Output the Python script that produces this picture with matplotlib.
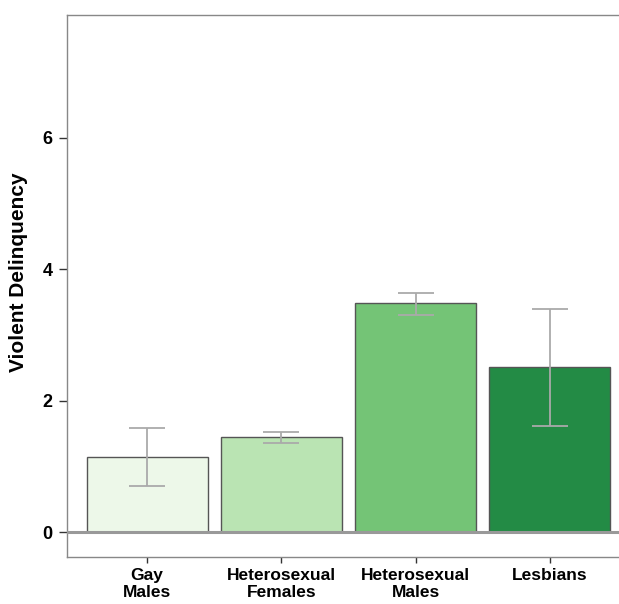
import matplotlib
matplotlib.use("Agg")
import matplotlib.pyplot as plt

# data
groups = ["Gay\nMales", "Heterosexual\nFemales", "Heterosexual\nMales", "Lesbians"]
means = [1.15, 1.45, 3.48, 2.51]
err_low = [0.70, 1.36, 3.31, 1.61]
err_high = [1.59, 1.53, 3.64, 3.40]
colors = ["#edf8e9", "#bae4b3", "#74c476", "#238b45"]

plt.rcParams["font.family"] = ["Liberation Sans", "DejaVu Sans"]
plt.rcParams["font.weight"] = "bold"

fig = plt.figure(figsize=(6.19, 6.04), dpi=100)
ax = fig.add_axes([0.1075, 0.0778, 0.8925, 0.8972])

x = list(range(len(groups)))
ax.bar(x, means, width=0.9, color=colors, edgecolor="#555555", linewidth=1.0, zorder=2)
yerr = [[m - lo for m, lo in zip(means, err_low)], [hi - m for m, hi in zip(means, err_high)]]
ax.errorbar(x, means, yerr=yerr, fmt="none", ecolor="#aaaaaa", elinewidth=1.3,
            capsize=13, capthick=1.3, zorder=3)
ax.axhline(0, color="#999999", linewidth=2.2, zorder=4)

ax.set_xlim(-0.6, 3.515)
ax.set_ylim(-0.38, 7.87)
ax.set_yticks([0, 2, 4, 6])
ax.set_xticks(x)
ax.set_xticklabels(groups, fontsize=12.5, fontweight="bold", linespacing=1.15)
ax.tick_params(axis="y", labelsize=13, length=6, color="#333333", width=1, pad=4)
ax.tick_params(axis="x", length=4, color="#333333", width=1, pad=4)
for lab in ax.get_yticklabels():
    lab.set_fontweight("bold")
ax.set_ylabel("Violent Delinquency", fontsize=15, fontweight="bold")
ax.yaxis.set_label_coords(-0.07, 0.525)

for s in ["left", "bottom", "top"]:
    ax.spines[s].set_color("#888888")
    ax.spines[s].set_linewidth(1.0)
ax.spines["right"].set_visible(False)

fig.savefig("out.png", dpi=100)
